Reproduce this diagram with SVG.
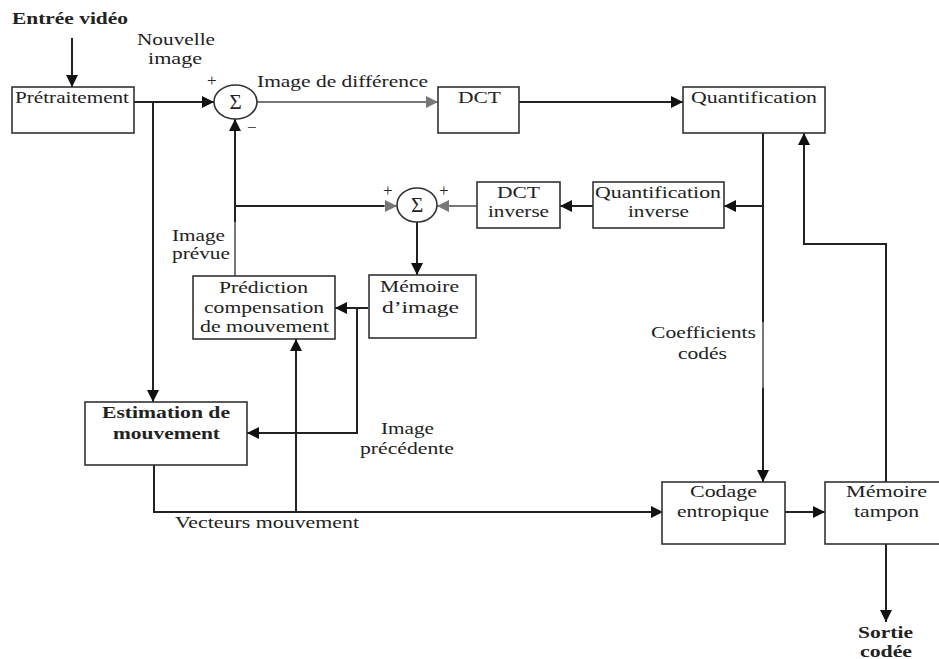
<svg xmlns="http://www.w3.org/2000/svg" width="939" height="659" viewBox="0 0 939 659">
  <style>
    .box { fill: #fff; stroke: #333; stroke-width: 1.6; }
    .sum { fill: #fff; stroke: #333; stroke-width: 1.6; }
    .t { font-family: 'Liberation Serif', 'Times New Roman', serif; font-size: 17px; fill: #222; }
    .b { font-weight: bold; }
    .s { font-size: 21px; }
    .o { font-size: 16px; }
    .w { stroke: #222; stroke-width: 2; fill: none; }
    .g { stroke: #777; stroke-width: 2; fill: none; }
    .a { marker-end: url(#arr); }
    .ag { marker-end: url(#arrg); }
  </style>
  <defs>
    <marker id="arr" markerUnits="userSpaceOnUse" markerWidth="14" markerHeight="12" refX="12" refY="6" orient="auto">
      <path d="M0,0 L12,6 L0,12 Z" fill="#111"/>
    </marker>
    <marker id="arrg" markerUnits="userSpaceOnUse" markerWidth="14" markerHeight="12" refX="12" refY="6" orient="auto">
      <path d="M0,0 L12,6 L0,12 Z" fill="#777"/>
    </marker>
  </defs>

  <!-- connectors -->
  <g id="connectors">
    <path class="w a" d="M72,38 V87"/>
    <path class="w a" d="M134,102 H214"/>
    <path class="w a" d="M153,102 V402"/>
    <path class="g ag" d="M257,102 H438"/>
    <path class="w a" d="M519,102 H683"/>
    <path class="w a" d="M763,133 V482"/>
    <path class="g" d="M763,322 V388"/>
    <path class="w a" d="M763,206 H724"/>
    <path class="w a" d="M593,206 H560"/>
    <path class="g ag" d="M477,206 H437"/>
    <path class="w a" d="M235,276 V119"/>
    <path class="g" d="M235,222 V276"/>
    <path class="w" d="M235,206 H385"/>
    <path class="g ag" d="M384,206 H397"/>
    <path class="w a" d="M417,222 V275"/>
    <path class="w a" d="M368,308 H335"/>
    <path class="w a" d="M357,308 V433 H247"/>
    <path class="w a" d="M154,465 V512 H663"/>
    <path class="w a" d="M296,512 V339"/>
    <path class="w a" d="M785,512 H825"/>
    <path class="w a" d="M886,544 V622" stroke-width="3"/>
    <path class="w a" d="M886,482 V244 H804 V133"/>
  </g>

  <!-- free labels -->
  <text class="t b" x="12" y="24" textLength="116" lengthAdjust="spacingAndGlyphs">Entrée vidéo</text>
  <text class="t" x="137" y="45" textLength="78" lengthAdjust="spacingAndGlyphs">Nouvelle</text>
  <text class="t" x="148" y="64" textLength="54" lengthAdjust="spacingAndGlyphs">image</text>
  <text class="t" x="207" y="86">+</text>
  <text class="t" x="247" y="133">−</text>
  <text class="t" x="257" y="87" textLength="171" lengthAdjust="spacingAndGlyphs">Image de différence</text>
  <text class="t" x="383" y="196">+</text>
  <text class="t" x="439" y="196">+</text>
  <text class="t" x="172" y="241" textLength="53" lengthAdjust="spacingAndGlyphs">Image</text>
  <text class="t" x="172" y="259" textLength="58" lengthAdjust="spacingAndGlyphs">prévue</text>
  <text class="t" x="381" y="434" textLength="53" lengthAdjust="spacingAndGlyphs">Image</text>
  <text class="t" x="360" y="454" textLength="94" lengthAdjust="spacingAndGlyphs">précédente</text>
  <text class="t" x="175" y="528" textLength="184" lengthAdjust="spacingAndGlyphs">Vecteurs mouvement</text>
  <text class="t" x="651" y="338" textLength="105" lengthAdjust="spacingAndGlyphs">Coefficients</text>
  <text class="t" x="678" y="359" textLength="49" lengthAdjust="spacingAndGlyphs">codés</text>
  <text class="t b o" x="858" y="638" textLength="55" lengthAdjust="spacingAndGlyphs">Sortie</text>
  <text class="t b o" x="860" y="657" textLength="52" lengthAdjust="spacingAndGlyphs">codée</text>

  <!-- nodes -->
  <g id="pretraitement">
    <rect class="box" x="12" y="87" width="122" height="46"/>
    <text class="t" x="15" y="103" textLength="114" lengthAdjust="spacingAndGlyphs">Prétraitement</text>
  </g>
  <g id="sum1">
    <ellipse class="sum" cx="235.5" cy="102" rx="21.5" ry="17"/>
    <text class="t s" x="235.5" y="109" text-anchor="middle">Σ</text>
  </g>
  <g id="dct">
    <rect class="box" x="438" y="87" width="81" height="46"/>
    <text class="t" x="458" y="103" textLength="43" lengthAdjust="spacingAndGlyphs">DCT</text>
  </g>
  <g id="quantification">
    <rect class="box" x="683" y="87" width="142" height="46"/>
    <text class="t" x="691" y="103" textLength="126" lengthAdjust="spacingAndGlyphs">Quantification</text>
  </g>
  <g id="quantification-inverse">
    <rect class="box" x="593" y="182" width="131" height="46"/>
    <text class="t" x="595" y="198" textLength="126" lengthAdjust="spacingAndGlyphs">Quantification</text>
    <text class="t" x="628" y="217" textLength="61" lengthAdjust="spacingAndGlyphs">inverse</text>
  </g>
  <g id="dct-inverse">
    <rect class="box" x="477" y="182" width="83" height="46"/>
    <text class="t" x="497" y="198" textLength="43" lengthAdjust="spacingAndGlyphs">DCT</text>
    <text class="t" x="488" y="217" textLength="61" lengthAdjust="spacingAndGlyphs">inverse</text>
  </g>
  <g id="sum2">
    <ellipse class="sum" cx="417" cy="205" rx="20" ry="17"/>
    <text class="t s" x="417" y="212" text-anchor="middle">Σ</text>
  </g>
  <g id="memoire-image">
    <rect class="box" x="369" y="275" width="107" height="63"/>
    <text class="t" x="380" y="292" textLength="79" lengthAdjust="spacingAndGlyphs">Mémoire</text>
    <text class="t" x="382" y="313" textLength="77" lengthAdjust="spacingAndGlyphs">d’image</text>
  </g>
  <g id="prediction">
    <rect class="box" x="193" y="276" width="142" height="63"/>
    <text class="t" x="219" y="293" textLength="89" lengthAdjust="spacingAndGlyphs">Prédiction</text>
    <text class="t" x="204" y="313" textLength="120" lengthAdjust="spacingAndGlyphs">compensation</text>
    <text class="t" x="200" y="332" textLength="129" lengthAdjust="spacingAndGlyphs">de mouvement</text>
  </g>
  <g id="estimation">
    <rect class="box" x="85" y="402" width="162" height="63"/>
    <text class="t b" x="102" y="418" textLength="128" lengthAdjust="spacingAndGlyphs">Estimation de</text>
    <text class="t b" x="113" y="439" textLength="107" lengthAdjust="spacingAndGlyphs">mouvement</text>
  </g>
  <g id="codage">
    <rect class="box" x="662" y="482" width="123" height="62"/>
    <text class="t" x="690" y="497" textLength="67" lengthAdjust="spacingAndGlyphs">Codage</text>
    <text class="t" x="677" y="517" textLength="92" lengthAdjust="spacingAndGlyphs">entropique</text>
  </g>
  <g id="memoire-tampon">
    <rect class="box" x="825" y="482" width="124" height="62"/>
    <text class="t" x="846" y="497" textLength="81" lengthAdjust="spacingAndGlyphs">Mémoire</text>
    <text class="t" x="854" y="517" textLength="65" lengthAdjust="spacingAndGlyphs">tampon</text>
  </g>
</svg>
